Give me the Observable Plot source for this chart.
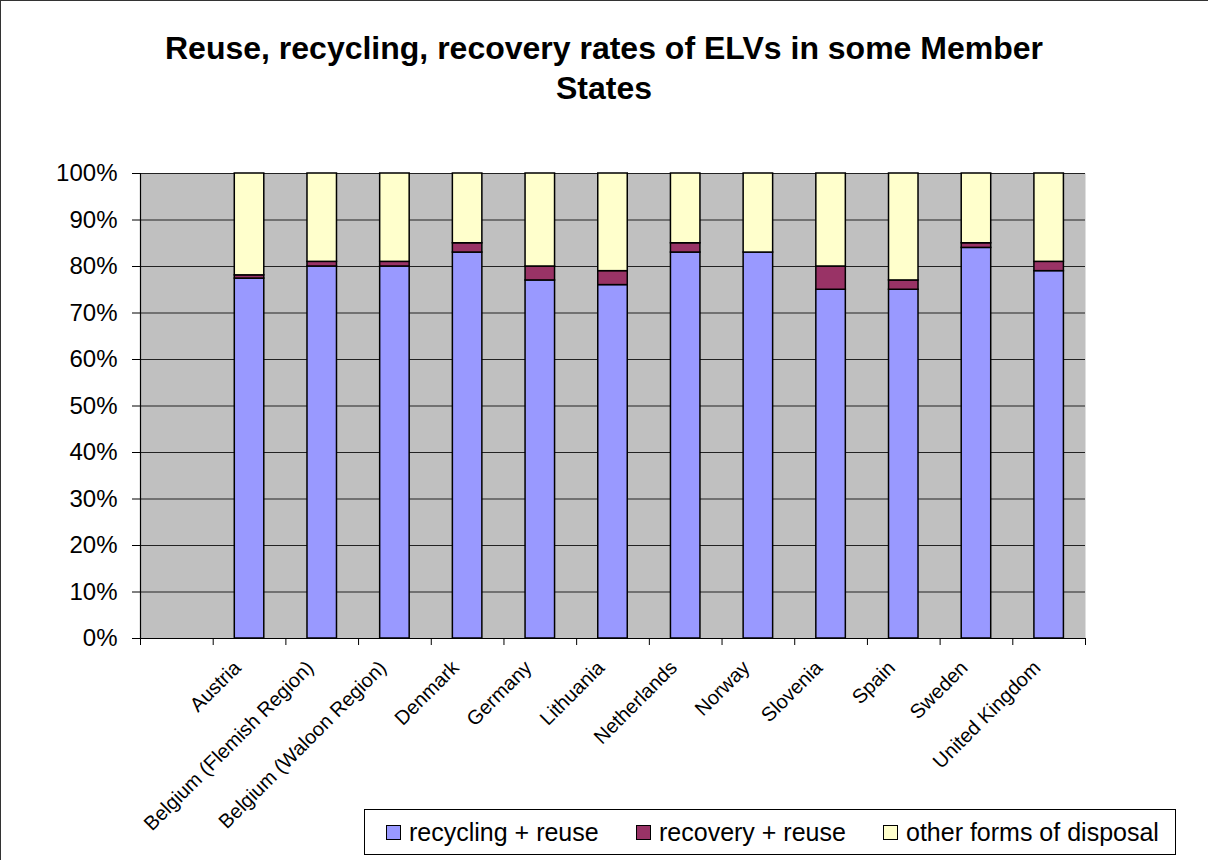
<!DOCTYPE html>
<html>
<head>
<meta charset="utf-8">
<script src="https://cdn.jsdelivr.net/npm/d3@7"></script>
<script src="https://cdn.jsdelivr.net/npm/@observablehq/plot@0.6"></script>
<style>
  body { margin: 0; background: #fff; font-family: "Liberation Sans", Arial, sans-serif; }
  #wrap { position: relative; width: 1208px; height: 860px; overflow: hidden; background: #fff; }
  #border { position: absolute; left: 0; top: 0; width: 1300px; height: 1000px; border-top: 1.5px solid #333; border-left: 1.5px solid #333; box-sizing: border-box; pointer-events: none; }
  #title { position: absolute; left: 0; top: 28px; width: 1208px; text-align: center; font-weight: bold; font-size: 32px; line-height: 40px; color: #000; }
  #legend { position: absolute; left: 364px; top: 809px; width: 812px; height: 46px; border: 1px solid #000; box-sizing: border-box; background: #fff; font-size: 25px; color: #000; }
  .item { position: absolute; top: 0; height: 44px; display: flex; align-items: center; }
  .sw { width: 13px; height: 13px; border: 1px solid #000; margin-right: 8px; }
  #chart { position: absolute; left: 0; top: 0; }
</style>
</head>
<body>
<div id="wrap">
  <div id="chart"></div>
  <div id="title">Reuse, recycling, recovery rates of ELVs in some Member<br>States</div>
  <div id="legend"></div>
  <div id="border"></div>
</div>
<script>
// ---- Data ----
const countries = ["Austria", "Belgium (Flemish Region)", "Belgium (Waloon Region)", "Denmark", "Germany", "Lithuania", "Netherlands", "Norway", "Slovenia", "Spain", "Sweden", "United Kingdom"];
const seriesNames = ["recycling + reuse", "recovery + reuse", "other forms of disposal"];
const recyclingReuse = [0.774, 0.80, 0.80, 0.83, 0.77, 0.76, 0.83, 0.83, 0.75, 0.75, 0.84, 0.79];
const recoveryReuse  = [0.007, 0.01, 0.01, 0.02, 0.03, 0.03, 0.02, 0.00, 0.05, 0.02, 0.01, 0.02];
const otherDisposal  = [0.219, 0.19, 0.19, 0.15, 0.20, 0.21, 0.15, 0.17, 0.20, 0.23, 0.15, 0.19];
const seriesColors = ["#9999FF", "#993366", "#FFFFCC"];
const yTicks = [0, 0.1, 0.2, 0.3, 0.4, 0.5, 0.6, 0.7, 0.8, 0.9, 1.0];

// Category axis has an empty leading slot, as in the original
const categories = [""].concat(countries);

const rows = [];
countries.forEach((c, i) => {
  rows.push({country: c, series: seriesNames[0], value: recyclingReuse[i]});
  rows.push({country: c, series: seriesNames[1], value: recoveryReuse[i]});
  rows.push({country: c, series: seriesNames[2], value: otherDisposal[i]});
});

const W = 1208, H = 860;
const mL = 140, mR = 123, mT = 173, mB = 222;
const bw = (W - mL - mR) / categories.length;
const barW = 29.5;
const inset = (bw - barW) / 2;

const chart = Plot.plot({
  width: W,
  height: H,
  marginLeft: mL,
  marginRight: mR,
  marginTop: mT,
  marginBottom: mB,
  style: { fontFamily: "'Liberation Sans', Arial, sans-serif", color: "#000", background: "transparent" },
  x: { type: "band", domain: categories, padding: 0, round: false, axis: null },
  y: { domain: [0, 1], axis: null },
  color: { domain: seriesNames, range: seriesColors },
  marks: [
    Plot.frame({ fill: "#C0C0C0", stroke: "none" }),
    Plot.ruleY(yTicks, { stroke: "#222", strokeWidth: 1 }),
    Plot.barY(rows, Plot.stackY({
      x: "country", y: "value", fill: "series",
      stroke: "#000", strokeWidth: 1.5,
      insetLeft: inset, insetRight: inset
    })),
    Plot.ruleY([0], { stroke: "#000", strokeWidth: 1.2 }),
    Plot.ruleX([categories[0]], { dx: -bw / 2, stroke: "#000", strokeWidth: 1.2 }),
    Plot.axisY({ ticks: yTicks, tickFormat: d3.format(".0%"), tickSize: 8, tickPadding: 15, fontSize: 24, label: null }),
    Plot.axisX({ tickSize: 7, tickFormat: () => "", dx: -bw / 2, label: null }),
    Plot.axisX({ ticks: [categories[categories.length - 1]], tickSize: 7, tickFormat: () => "", dx: bw / 2, label: null }),
    Plot.axisX({ tickSize: 0, tickPadding: 26, tickRotate: -45, fontSize: 20, dx: -12, label: null })
  ]
});
document.getElementById("chart").appendChild(chart);

// Legend
const legendPos = [21, 271, 518];
const legend = document.getElementById("legend");
seriesNames.forEach((s, i) => {
  const it = document.createElement("div");
  it.className = "item";
  it.style.left = legendPos[i] + "px";
  const sw = document.createElement("div");
  sw.className = "sw";
  sw.style.background = seriesColors[i];
  const t = document.createElement("span");
  t.textContent = s;
  it.appendChild(sw);
  it.appendChild(t);
  legend.appendChild(it);
});
</script>
</body>
</html>
